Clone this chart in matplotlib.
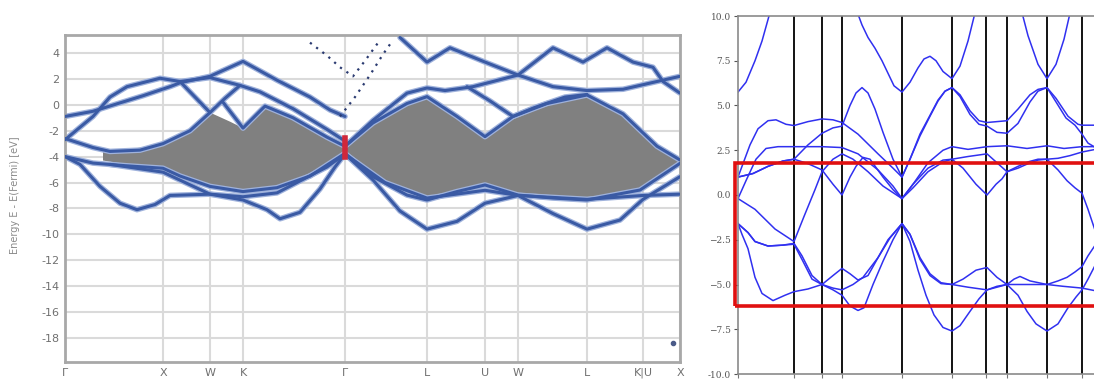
import matplotlib
matplotlib.use("Agg")
import matplotlib.pyplot as plt
from matplotlib.patches import Rectangle

# ---------------- left panel data (k in path units, E in eV) ----------------
left_ticks = [0, 98, 145, 178, 280, 362, 420, 453, 522, 578, 615]
left_labels = ["Γ", "X", "W", "K", "Γ", "L", "U", "W", "L", "K|U", "X"]
left_yticks = [4, 2, 0, -2, -4, -6, -8, -10, -12, -14, -16, -18]

gray_top_1 = [(38, -3.6), (60, -3.5), (98, -3.0), (125, -2.0), (145, -0.6), (165, -1.3),
              (178, -1.8), (200, -0.2), (228, -0.9), (262, -2.6), (280, -3.2)]
gray_bot_1 = [(38, -4.3), (60, -4.6), (98, -4.8), (115, -5.5), (145, -6.2), (178, -6.6),
              (212, -6.3), (245, -5.5), (275, -4.0), (280, -3.75)]
gray_top_2 = [(280, -3.2), (308, -1.4), (342, 0.1), (362, 0.63), (392, -0.9), (420, -2.46),
              (448, -0.9), (482, 0.1), (522, 0.76), (558, -0.7), (592, -3.2), (615, -4.26)]
gray_bot_2 = [(280, -3.75), (308, -5.55), (342, -6.97), (362, -7.35), (392, -6.7), (420, -6.19),
              (453, -6.97), (488, -7.2), (522, -7.35), (575, -6.58), (615, -4.52)]

l_u1 = [(0, -0.9), (28, -0.5), (78, 0.7), (105, 1.4), (115, 1.7), (145, 2.2), (178, 3.35),
        (212, 1.9), (245, 0.6), (265, -0.4), (280, -0.9)]
l_u2 = [(0, -2.7), (28, -0.9), (45, 0.6), (62, 1.4), (95, 2.05), (115, 1.8), (145, -0.6),
        (160, 0.5), (175, 1.5)]
l_u3 = [(115, 1.8), (145, 2.1), (175, 1.5), (195, 1.0), (228, -0.3), (262, -1.9), (280, -2.8)]
l_dia2 = [(158, 0.2), (178, -1.8), (200, -0.1), (228, -1.0), (262, -2.5), (280, -3.2)]
l_edge1 = [(0, -2.6), (28, -3.3), (45, -3.6), (75, -3.5), (98, -3.0), (125, -2.0), (145, -0.6)]
l_edge2 = [(0, -4.0), (28, -4.5), (60, -4.7), (98, -4.9), (115, -5.5), (145, -6.3), (178, -6.7),
           (212, -6.4), (245, -5.5), (275, -4.0), (280, -3.75)]
l_edge3 = [(45, -4.6), (98, -5.2), (145, -6.9), (178, -7.1), (212, -6.8), (262, -4.8), (280, -3.8)]
l_deep1 = [(0, -4.0), (15, -4.6), (35, -6.3), (55, -7.6), (72, -8.1), (90, -7.7), (105, -7.0),
           (145, -6.9), (178, -7.35), (202, -8.1), (215, -8.8), (235, -8.3), (255, -6.5),
           (270, -4.8), (280, -3.8)]
l_t1 = [(335, 5.2), (362, 3.3), (385, 4.4), (420, 3.3), (453, 2.3), (488, 4.4), (518, 3.3),
        (542, 4.4), (568, 3.3), (588, 2.9), (598, 1.8), (615, 0.9)]
l_t2 = [(280, -3.2), (308, -1.2), (342, 0.9), (362, 1.3), (380, 1.1), (408, 1.4), (453, 2.3),
        (488, 1.4), (522, 1.1), (558, 1.2), (592, 1.8), (615, 2.2)]
l_v2 = [(402, 1.4), (425, 0.3), (448, -0.9), (470, -0.2), (500, 0.6), (522, 0.8)]
l_deep2 = [(280, -3.8), (308, -5.8), (335, -8.2), (362, -9.6), (392, -9.0), (420, -7.6),
           (453, -7.0), (488, -8.4), (522, -9.6), (555, -8.9), (578, -7.3), (615, -5.55)]
l_flat = [(280, -3.8), (320, -6.0), (362, -7.2), (420, -6.6), (453, -7.0), (522, -7.3),
          (578, -7.0), (615, -6.9)]
l_dot1 = [(275, -0.9), (290, 0.6), (305, 2.3), (318, 3.9), (328, 5.0)]
l_dot2 = [(245, 4.8), (262, 3.8), (275, 2.9), (288, 2.2), (300, 3.4), (315, 5.0)]
left_lines = [l_u1, l_u2, l_u3, l_dia2, l_edge1, l_edge2, l_edge3, l_deep1,
              l_t1, l_t2, l_v2, gray_top_2, gray_bot_2, l_deep2, l_flat]
gamma_mark = (280, -2.6, -4.0)
stray_point = (608, -18.4)

# ---------------- right panel data ----------------
right_ticks = [0, 56, 84, 104, 164, 214, 248, 269, 309, 344]
right_yticks = [10.0, 7.5, 5.0, 2.5, 0.0, -2.5, -5.0, -7.5, -10.0]
right_ylabels = ["10.0", "7.5", "5.0", "2.5", "0.0", "\u22122.5", "\u22125.0", "\u22127.5", "-10.0"]
box_e = (-6.2, 1.8)

r_a1 = [(0, 5.75), (8, 6.3), (17, 7.5), (24, 8.6), (30, 9.8), (33, 10.4)]
r_a2 = [(118, 10.4), (124, 9.5), (130, 8.8), (137, 8.2), (144, 7.5), (150, 6.8), (156, 6.1),
        (164, 5.75), (172, 6.3), (180, 7.1), (186, 7.6), (192, 7.75), (198, 7.5), (205, 6.9),
        (214, 6.5), (222, 7.2), (230, 8.6), (238, 10.4)]
r_a3 = [(283, 10.4), (290, 8.9), (300, 7.3), (309, 6.5), (318, 7.3), (326, 8.7), (333, 10.4)]
r_b = [(0, 1.0), (6, 1.9), (12, 2.8), (20, 3.7), (30, 4.15), (38, 4.2), (48, 3.95), (56, 3.88),
       (70, 4.1), (84, 4.25), (95, 4.2), (104, 4.05), (120, 3.4), (140, 2.3), (155, 1.5),
       (164, 1.0), (172, 2.0), (182, 3.4), (192, 4.45), (200, 5.3), (207, 5.8), (214, 6.0),
       (222, 5.6), (232, 4.7), (241, 4.15), (249, 4.05), (259, 4.1), (269, 4.15), (280, 4.8),
       (292, 5.6), (300, 5.9), (309, 6.0), (318, 5.4), (330, 4.4), (340, 3.95), (344, 3.9),
       (362, 3.9)]
r_d1 = [(0, 1.0), (15, 1.2), (30, 1.6), (45, 1.9), (56, 2.0), (70, 2.8), (84, 3.45), (95, 3.75),
        (104, 3.85), (112, 5.0), (118, 5.7), (124, 6.0), (130, 5.7), (137, 4.8), (145, 3.5),
        (155, 2.0), (164, 1.0), (172, 2.0), (182, 3.3), (192, 4.4), (200, 5.25), (207, 5.8),
        (214, 6.0), (222, 5.5), (232, 4.5), (241, 3.95), (249, 3.85), (259, 3.5), (269, 3.45),
        (280, 4.0), (292, 5.2), (300, 5.8), (309, 6.0), (318, 5.2), (328, 4.3), (337, 3.9),
        (344, 3.4), (350, 2.9), (356, 2.7)]
r_c = [(0, -0.2), (8, 0.8), (18, 2.0), (28, 2.6), (40, 2.7), (56, 2.7), (84, 2.7), (104, 2.65),
       (120, 2.3), (140, 1.4), (155, 0.5), (164, -0.2), (175, 0.6), (190, 1.8), (205, 2.5),
       (214, 2.7), (230, 2.55), (249, 2.7), (269, 2.75), (289, 2.6), (309, 2.75), (326, 2.6),
       (344, 2.7), (362, 2.7)]
r_d2 = [(0, 1.0), (15, 1.2), (30, 1.6), (45, 1.9), (56, 2.0), (70, 1.75), (84, 1.4), (95, 0.6),
        (104, 0.0), (112, 1.0), (118, 1.6), (125, 2.1), (132, 2.0), (145, 1.0), (155, 0.3),
        (164, -0.2), (175, 0.4), (190, 1.3), (205, 1.85), (214, 2.0), (230, 2.15), (249, 2.3),
        (259, 1.8), (269, 1.3), (280, 1.6), (290, 1.85), (300, 2.0), (309, 2.0), (320, 2.05),
        (332, 2.2), (344, 2.4), (362, 2.6)]
r_e = [(0, -0.2), (17, -0.8), (37, -1.9), (56, -2.6), (66, -1.2), (77, 0.3), (84, 1.3),
       (95, 2.0), (104, 2.3), (115, 2.0), (130, 1.3), (145, 0.5), (164, -0.2), (175, 0.6),
       (190, 1.5), (205, 1.95), (214, 2.0), (225, 1.5), (238, 0.6), (249, 0.0), (258, 0.6),
       (264, 0.9), (269, 1.3), (280, 1.5), (290, 1.75), (300, 1.95), (309, 2.0), (320, 1.4),
       (329, 0.8), (337, 0.4), (344, 0.1), (350, -0.8), (356, -1.8), (362, -2.8)]
r_f = [(0, -1.6), (10, -2.1), (17, -2.6), (30, -2.85), (45, -2.8), (56, -2.7), (64, -3.4),
       (74, -4.5), (84, -5.0), (95, -5.2), (104, -5.3), (115, -5.0), (125, -4.6), (140, -3.5),
       (152, -2.4), (164, -1.6), (172, -2.2), (182, -3.6), (192, -4.5), (203, -4.95),
       (214, -5.0), (230, -5.15), (249, -5.3), (259, -5.15), (269, -5.0), (289, -5.0),
       (309, -5.0), (325, -5.1), (344, -5.2), (362, -5.4)]
r_f2 = [(0, -1.6), (10, -2.1), (17, -2.6), (30, -2.85), (45, -2.8), (56, -2.75), (64, -3.6),
        (74, -4.7), (84, -5.0), (95, -5.3), (104, -5.6), (112, -6.2), (120, -6.45), (126, -6.3),
        (135, -5.0), (145, -3.7), (155, -2.5), (164, -1.6), (172, -2.2), (182, -3.5),
        (192, -4.4), (203, -4.9), (214, -5.0), (225, -4.7), (238, -4.2), (249, -4.05),
        (259, -4.6), (269, -5.0), (276, -4.7), (282, -4.55), (292, -4.8), (309, -5.0),
        (320, -4.8), (329, -4.6), (337, -4.3), (344, -4.0), (350, -3.4), (362, -2.4)]
r_g = [(0, -1.6), (4, -2.2), (10, -3.0), (17, -4.6), (24, -5.5), (35, -5.9), (47, -5.6),
       (56, -5.4), (70, -5.25), (84, -5.0), (95, -4.5), (104, -4.1), (112, -4.4), (120, -4.75),
       (130, -4.5), (140, -3.5), (150, -2.5), (164, -1.6), (172, -2.6), (180, -4.2),
       (188, -5.6), (196, -6.7), (205, -7.4), (214, -7.6), (222, -7.3), (232, -6.5),
       (241, -5.8), (249, -5.3), (259, -5.1), (269, -5.0), (280, -5.6), (289, -6.5),
       (298, -7.2), (309, -7.6), (320, -7.2), (330, -6.3), (338, -5.7), (344, -5.3),
       (350, -4.7), (362, -3.4)]
right_bands = [r_a1, r_a2, r_a3, r_b, r_d1, r_c, r_d2, r_e, r_f, r_f2, r_g]


def xy(pts):
    return [p[0] for p in pts], [p[1] for p in pts]


W, H = 1094, 379
fig = plt.figure(figsize=(W / 100, H / 100), dpi=100)

# ---------------- left: screenshot-like band plot ----------------
ax1 = fig.add_axes([65 / W, 1 - 362 / H, 615 / W, 327 / H])
ax1.set_xlim(0, 615)
ax1.set_ylim(-19.86, 5.39)
for k in left_ticks:
    ax1.axvline(k, color="#dadada", lw=1.5, zorder=0)
for e in left_yticks:
    ax1.axhline(e, color="#dadada", lw=1.5, zorder=0)

# gray filled band manifold
for top, bot in ((gray_top_1, gray_bot_1), (gray_top_2, gray_bot_2)):
    tx, ty = xy(top)
    bx, by = xy(bot)
    ax1.fill(tx + bx[::-1], ty + by[::-1], color="#808080", lw=0, zorder=1)

for band in left_lines:
    x, y = xy(band)
    ax1.plot(x, y, color="#9fb2dc", lw=4.0, zorder=2, solid_capstyle="round")
    ax1.plot(x, y, color="#3a5aa4", lw=2.2, zorder=3, solid_capstyle="round")
for band in (l_dot1, l_dot2):
    x, y = xy(band)
    ax1.plot(x, y, ls=(0, (1, 2.5)), color="#2a3a70", lw=1.6, zorder=3)

gk, g_hi, g_lo = gamma_mark
ax1.plot([gk, gk], [g_hi, g_lo], color="#d0283a", lw=4, zorder=4)
ax1.plot(*stray_point, "o", color="#4a5a88", ms=3, zorder=4)

ax1.set_xticks(left_ticks)
ax1.set_xticklabels(left_labels)
ax1.set_yticks(left_yticks)
ax1.set_yticklabels([str(v) for v in left_yticks])
ax1.tick_params(length=0, labelsize=8, colors="#707070", pad=4)
for s in ax1.spines.values():
    s.set_color("#a8a8a8")
    s.set_linewidth(2.0)
fig.text(15 / W, 1 - 195 / H, "Energy E - E(Fermi) [eV]", rotation=90,
         ha="center", va="center", fontsize=7, color="#8a8a8a")

# ---------------- right: band structure with box ----------------
ax2 = fig.add_axes([738 / W, 1 - 374 / H, 362 / W, 358 / H])
ax2.set_xlim(0, 362)
ax2.set_ylim(-10, 10)
for k in right_ticks[1:]:
    ax2.axvline(k, color="black", lw=1.3, zorder=1)
for band in right_bands:
    x, y = xy(band)
    ax2.plot(x, y, color="#3030f0", lw=1.1, zorder=2)

rect = Rectangle((-3, box_e[0]), 380, box_e[1] - box_e[0], fill=False,
                 edgecolor="#e01010", lw=2.6, clip_on=False, zorder=5)
ax2.add_patch(rect)

ax2.set_xticks(right_ticks)
ax2.set_xticklabels([])
ax2.set_yticks(right_yticks)
ax2.set_yticklabels(right_ylabels, family="DejaVu Serif")
ax2.tick_params(axis="y", length=3, width=0.8, labelsize=6.5, colors="#555555", pad=2)
ax2.tick_params(axis="x", length=3, width=0.8, colors="#777777")
for name, s in ax2.spines.items():
    s.set_color("#8a8a8a")
    s.set_linewidth(1.2)
ax2.spines["right"].set_visible(False)

fig.savefig("out.png", dpi=100)
